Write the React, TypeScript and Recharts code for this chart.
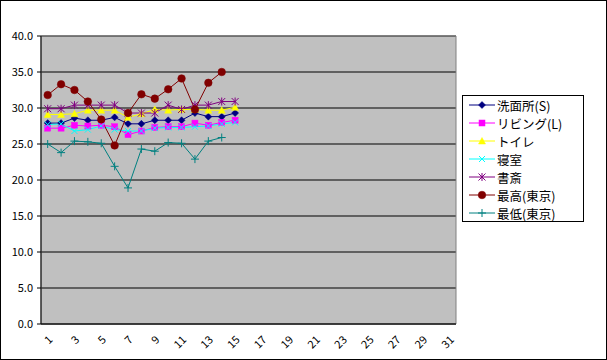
import React from 'react';
import {
  LineChart,
  Line,
  XAxis,
  YAxis,
  CartesianGrid,
  ReferenceArea,
} from 'recharts';

const days = [1, 2, 3, 4, 5, 6, 7, 8, 9, 10, 11, 12, 13, 14, 15];
const senmen = [27.9, 27.9, 28.6, 28.3, 28.3, 28.7, 27.8, 27.8, 28.3, 28.3, 28.3, 29.3, 28.8, 28.8, 29.3];
const living = [27.2, 27.2, 27.6, 27.5, 27.6, 27.4, 26.3, 26.8, 27.3, 27.4, 27.4, 27.9, 27.6, 28.0, 28.3];
const toilet = [29.1, 29.1, 29.2, 29.7, 29.7, 29.7, 28.7, 29.2, 29.8, 29.7, 29.8, 29.8, 29.7, 29.7, 30.1];
const bedroom = [27.7, 27.8, 26.8, 27.0, 27.5, 27.0, 26.8, 26.8, 27.2, 27.3, 27.3, 27.4, 27.5, 27.8, 28.0];
const study = [29.9, 29.9, 30.4, 30.4, 30.4, 30.4, 29.3, 29.3, 29.3, 30.4, 29.8, 30.4, 30.4, 30.9, 30.9];
const tokyoMax = [31.8, 33.3, 32.5, 30.9, 28.4, 24.8, 29.3, 31.9, 31.3, 32.6, 34.1, 29.8, 33.5, 35.0, null];
const tokyoMin = [25.0, 23.8, 25.4, 25.3, 25.1, 21.9, 18.9, 24.3, 24.0, 25.2, 25.1, 22.9, 25.4, 25.9, null];

const yTicks = [0, 5, 10, 15, 20, 25, 30, 35, 40];
const xLabelTicks = [1, 3, 5, 7, 9, 11, 13, 15, 17, 19, 21, 23, 25, 27, 29, 31];
const xBoundaryTicks = Array.from({ length: 32 }, (_, i) => i + 0.5);

const data = days.map((d, i) => ({
  day: d,
  senmen: senmen[i],
  living: living[i],
  toilet: toilet[i],
  bedroom: bedroom[i],
  study: study[i],
  tokyoMax: tokyoMax[i],
  tokyoMin: tokyoMin[i],
}));

type Shape = 'diamond' | 'square' | 'triangle' | 'x' | 'star' | 'circle' | 'plus';

const SERIES: { key: string; name: string; color: string; shape: Shape }[] = [
  { key: 'senmen', name: '洗面所(S)', color: '#000080', shape: 'diamond' },
  { key: 'living', name: 'リビング(L)', color: '#FF00FF', shape: 'square' },
  { key: 'toilet', name: 'トイレ', color: '#FFFF00', shape: 'triangle' },
  { key: 'bedroom', name: '寝室', color: '#00FFFF', shape: 'x' },
  { key: 'study', name: '書斎', color: '#800080', shape: 'star' },
  { key: 'tokyoMax', name: '最高(東京)', color: '#800000', shape: 'circle' },
  { key: 'tokyoMin', name: '最低(東京)', color: '#008080', shape: 'plus' },
];

const FONT = '"Noto Sans CJK JP", "Liberation Sans", sans-serif';

function marker(shape: Shape, cx: number, cy: number, color: string, key?: string) {
  switch (shape) {
    case 'diamond':
      return (
        <path key={key} d={`M${cx},${cy - 3.5}L${cx + 3.5},${cy}L${cx},${cy + 3.5}L${cx - 3.5},${cy}Z`} fill={color} stroke={color} strokeWidth={0.5} />
      );
    case 'square':
      return <rect key={key} x={cx - 3} y={cy - 3} width={6} height={6} fill={color} stroke={color} strokeWidth={0.5} />;
    case 'triangle':
      return (
        <path key={key} d={`M${cx},${cy - 3.5}L${cx + 3.5},${cy + 3}L${cx - 3.5},${cy + 3}Z`} fill={color} stroke={color} strokeWidth={0.5} />
      );
    case 'x':
      return (
        <path key={key} d={`M${cx - 3},${cy - 3}L${cx + 3},${cy + 3}M${cx - 3},${cy + 3}L${cx + 3},${cy - 3}`} stroke={color} strokeWidth={1} fill="none" />
      );
    case 'star':
      return (
        <path
          key={key}
          d={`M${cx - 3.5},${cy - 3.5}L${cx + 3.5},${cy + 3.5}M${cx - 3.5},${cy + 3.5}L${cx + 3.5},${cy - 3.5}M${cx},${cy - 4}L${cx},${cy + 4}`}
          stroke={color}
          strokeWidth={1}
          fill="none"
        />
      );
    case 'circle':
      return <circle key={key} cx={cx} cy={cy} r={3.8} fill={color} stroke={color} strokeWidth={0.5} />;
    case 'plus':
    default:
      return (
        <path key={key} d={`M${cx - 4},${cy}L${cx + 4},${cy}M${cx},${cy - 4}L${cx},${cy + 4}`} stroke={color} strokeWidth={1} fill="none" />
      );
  }
}

const makeDot = (shape: Shape, color: string) => (props: any) => {
  const { cx, cy, index, value } = props;
  if (cx == null || cy == null || value == null) return <g key={`e-${index}`} />;
  return marker(shape, cx, cy, color, `d-${index}`);
};

// legend sits to the right of the plot, like the Excel one
function LegendBox() {
  return (
    <div
      style={{
        position: 'absolute',
        left: 462,
        top: 95,
        width: 122,
        height: 127,
        boxSizing: 'border-box',
        border: '1px solid #000',
        background: '#fff',
        fontFamily: FONT,
        fontSize: 12.5,
        color: '#000',
      }}
    >
      {SERIES.map((s) => (
        <div key={s.key} style={{ display: 'flex', alignItems: 'center', height: 18 }}>
          <svg width={34} height={18} style={{ display: 'block', flex: 'none' }}>
            <line x1={6} y1={9} x2={32} y2={9} stroke={s.color} strokeWidth={1} />
            {marker(s.shape, 19, 9, s.color)}
          </svg>
          <span style={{ whiteSpace: 'nowrap' }}>{s.name}</span>
        </div>
      ))}
    </div>
  );
}

export default function App() {
  return (
    <div style={{ position: 'fixed', left: 0, top: 0, width: 607, height: 360, background: '#fff' }}>
      <LineChart
        width={607}
        height={360}
        data={data}
        margin={{ top: 36, right: 151, bottom: 4, left: 0 }}
      >
        <CartesianGrid
          horizontal
          vertical={false}
          stroke="#000"
          strokeOpacity={1}
          fill="#C0C0C0"
          fillOpacity={1}
        />
        <ReferenceArea x1={0.5} x2={31.5} y1={0} y2={40} fill="none" stroke="#808080" strokeWidth={1} ifOverflow="visible" />
        <YAxis
          type="number"
          domain={[0, 40]}
          ticks={yTicks}
          interval={0}
          width={41}
          tickFormatter={(v: number) => v.toFixed(1)}
          tick={{ fontSize: 11, fill: '#000', fontFamily: FONT }}
          axisLine={{ stroke: '#000' }}
          tickLine={{ stroke: '#000' }}
          tickSize={4}
          tickMargin={4}
        />
        <XAxis
          dataKey="day"
          type="number"
          domain={[0.5, 31.5]}
          ticks={xBoundaryTicks}
          interval={0}
          height={4}
          tick={false}
          tickSize={4}
          axisLine={{ stroke: '#000' }}
          tickLine={{ stroke: '#000' }}
          allowDataOverflow
        />
        <XAxis
          xAxisId="labels"
          dataKey="day"
          type="number"
          domain={[0.5, 31.5]}
          ticks={xLabelTicks}
          interval={0}
          height={28}
          axisLine={false}
          tickLine={false}
          tickSize={0}
          tickMargin={7}
          angle={-45}
          textAnchor="end"
          tick={{ fontSize: 11, fill: '#000', fontFamily: FONT }}
          allowDataOverflow
        />
        {SERIES.map((s) => (
          <Line
            key={s.key}
            type="linear"
            dataKey={s.key}
            name={s.name}
            stroke={s.color}
            strokeWidth={1}
            dot={makeDot(s.shape, s.color)}
            activeDot={false}
            connectNulls={false}
            isAnimationActive={false}
          />
        ))}
      </LineChart>
      <LegendBox />
      <div
        style={{
          position: 'absolute',
          inset: 0,
          border: '1px solid #000',
          pointerEvents: 'none',
        }}
      />
    </div>
  );
}
